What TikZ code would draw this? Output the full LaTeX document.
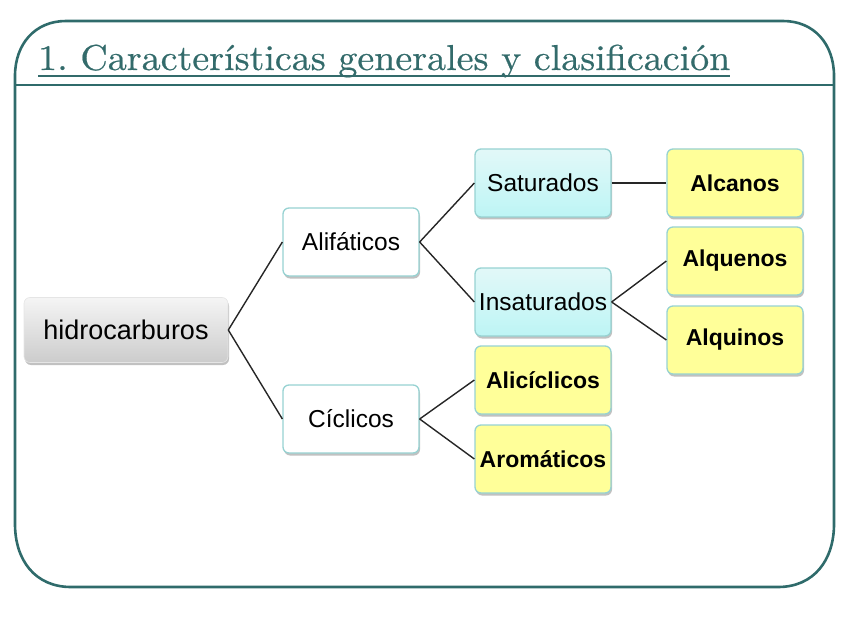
\documentclass[tikz,border=0pt]{standalone}
\usepackage{fontspec}
\setsansfont{Liberation Sans}
\newfontfamily\titlefont{lmroman10-regular}[Extension=.otf, FakeBold=0.5]
\usetikzlibrary{shadows,calc}
\definecolor{framec}{HTML}{2F6B6B}
\definecolor{titlec}{HTML}{336B6B}
\definecolor{boxline}{HTML}{97D2D2}
\definecolor{cyanA}{HTML}{E2F8F8}
\definecolor{cyanB}{HTML}{BDF5F5}
\definecolor{yel}{HTML}{FFFF99}
\tikzset{
  box/.style={draw=boxline, line width=1.3pt, rounded corners=6pt,
    minimum width=136pt, minimum height=68pt, inner sep=0pt,
    font=\sffamily\fontsize{24.5}{29}\selectfont,
    drop shadow={shadow xshift=1pt, shadow yshift=-2.5pt, opacity=0.35, fill=black!70}},
  whitebox/.style={box, fill=white},
  cyanbox/.style={box, top color=cyanA, bottom color=cyanB},
  yelbox/.style={box, fill=yel, font=\sffamily\bfseries\fontsize{23}{27}\selectfont},
  rootbox/.style={rounded corners=6pt, minimum width=204pt, minimum height=65pt, inner sep=0pt,
    top color=black!4, bottom color=black!20, draw=black!10, line width=0.6pt,
    font=\sffamily\fontsize{27}{32}\selectfont,
    drop shadow={shadow xshift=1pt, shadow yshift=-2.5pt, opacity=0.35, fill=black!70}},
  conn/.style={draw=black!85, line width=1.4pt},
  framel/.style={draw=framec, line width=2.6pt}
}
\frenchspacing
\begin{document}
\begin{tikzpicture}[x=1pt,y=-1pt]
\useasboundingbox (0,0) rectangle (848,636);
% frame
\path[framel] (15,76) .. controls (15,44) and (35,21) .. (66,21) -- (783,21)
  .. controls (814,21) and (834,44) .. (834,76) -- (834,524)
  .. controls (834,560) and (814,587) .. (778,587) -- (71,587)
  .. controls (35,587) and (15,560) .. (15,524) -- cycle;
\coordinate (dl) at (15,85);
\coordinate (dr) at (834,85);
\path[framel] (dl) -- (dr);
% title
\node[anchor=base west, inner sep=0pt, text=titlec, font=\titlefont\fontsize{36}{42}\selectfont, xscale=1.055] (title) at (38,70) {1. Características generales y clasificación};
\draw[titlec, line width=1.8pt] ($(title.base west)+(0,6)$) -- ($(title.base east)+(0,6)$);
% nodes
\node[rootbox] (hid) at (126,330) {hidrocarburos};
\node[whitebox] (ali) at (351,242) {Alifáticos};
\node[whitebox] (cic) at (351,419) {Cíclicos};
\node[cyanbox] (sat) at (543,183) {Saturados};
\node[cyanbox] (ins) at (543,302) {Insaturados};
\node[yelbox] (alic) at (543,380) {Alicíclicos};
\node[yelbox] (aro) at (543,459) {Aromáticos};
\node[yelbox] (alc) at (735,183) {Alcanos};
\node[yelbox] (alq) at (735,261) {Alquenos};
\node[yelbox] (alqi) at (735,340) {Alquinos};
% connectors
\draw[conn] (hid.east) -- (ali.west);
\draw[conn] (hid.east) -- (cic.west);
\draw[conn] (ali.east) -- (sat.west);
\draw[conn] (ali.east) -- (ins.west);
\draw[conn] (cic.east) -- (alic.west);
\draw[conn] (cic.east) -- (aro.west);
\draw[conn] (sat.east) -- (alc.west);
\draw[conn] (ins.east) -- (alq.west);
\draw[conn] (ins.east) -- (alqi.west);
\end{tikzpicture}
\end{document}
